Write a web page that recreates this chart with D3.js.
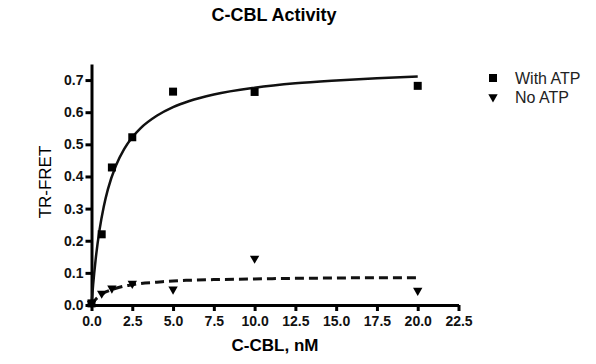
<!DOCTYPE html>
<html>
<head>
<meta charset="utf-8">
<script src="https://cdn.jsdelivr.net/npm/d3@7"></script>
<style>
  body { margin: 0; background: #fff; }
  svg { display: block; font-family: "Liberation Sans", Arial, sans-serif; }
</style>
</head>
<body>
<div id="container"></div>
<script>
// measured points
const conc = [0, 0.625, 1.25, 2.5, 5, 10, 20];
const withAtp = [0.005, 0.22, 0.428, 0.522, 0.664, 0.663, 0.682];
const noAtp = [0.005, 0.036, 0.052, 0.067, 0.049, 0.145, 0.045];

// fitted curves
const fitX = [0, 0.1, 0.25, 0.5, 0.75, 1, 1.5, 2, 2.5, 3, 4, 5, 6, 7.5, 10, 12.5, 15, 17.5, 20];
const fitWith = [0, 0.063, 0.140, 0.236, 0.306, 0.359, 0.434, 0.485, 0.522, 0.550, 0.589, 0.616, 0.635, 0.655, 0.676, 0.690, 0.699, 0.706, 0.711];
const fitNo = [0, 0.008, 0.017, 0.028, 0.037, 0.043, 0.052, 0.059, 0.063, 0.067, 0.071, 0.075, 0.077, 0.079, 0.081, 0.083, 0.084, 0.085, 0.085];

const xTicks = [0, 2.5, 5, 7.5, 10, 12.5, 15, 17.5, 20, 22.5];
const yTicks = [0, 0.1, 0.2, 0.3, 0.4, 0.5, 0.6, 0.7];
const seriesNames = ["With ATP", "No ATP"];

const width = 596;
const height = 364;

const x = d3.scaleLinear().domain([0, 22.5]).range([91.5, 458.5]);
const y = d3.scaleLinear().domain([0, 0.75]).range([305, 64]);

const svg = d3.create("svg")
  .attr("width", width)
  .attr("height", height);

// title
svg.append("text")
  .attr("x", 274)
  .attr("y", 21)
  .attr("text-anchor", "middle")
  .attr("font-size", "18px")
  .attr("font-weight", "bold")
  .text("C-CBL Activity");

const xAxis = svg.append("g")
  .attr("transform", "translate(0,305)")
  .call(d3.axisBottom(x).tickValues(xTicks).tickFormat(d3.format(".1f"))
    .tickSize(6).tickSizeOuter(0).tickPadding(5));

const yAxis = svg.append("g")
  .attr("transform", "translate(91.5,0)")
  .call(d3.axisLeft(y).tickValues(yTicks).tickFormat(d3.format(".1f"))
    .tickSize(6).tickSizeOuter(0).tickPadding(2));

[xAxis, yAxis].forEach(g => {
  g.select(".domain").attr("stroke", "#000").attr("stroke-width", 3);
  g.selectAll(".tick line").attr("stroke", "#000").attr("stroke-width", 3);
  g.selectAll(".tick text")
    .attr("fill", "#111")
    .attr("font-size", "14px")
    .attr("font-weight", "bold")
    .attr("font-family", "Liberation Sans, Arial, sans-serif");
});

// axis titles
svg.append("text")
  .attr("x", 275)
  .attr("y", 351)
  .attr("text-anchor", "middle")
  .attr("font-size", "17px")
  .attr("font-weight", "bold")
  .text("C-CBL, nM");

svg.append("text")
  .attr("transform", "translate(51,182) rotate(-90)")
  .attr("text-anchor", "middle")
  .attr("font-size", "17px")
  .text("TR-FRET");

const line = d3.line()
  .x(d => x(d[0]))
  .y(d => y(d[1]))
  .curve(d3.curveMonotoneX);

svg.append("path")
  .datum(d3.zip(fitX, fitWith))
  .attr("fill", "none")
  .attr("stroke", "#111")
  .attr("stroke-width", 2.5)
  .attr("d", line);

svg.append("path")
  .datum(d3.zip(fitX, fitNo))
  .attr("fill", "none")
  .attr("stroke", "#111")
  .attr("stroke-width", 3)
  .attr("stroke-dasharray", "9,5")
  .attr("d", line);

const square = d3.symbol(d3.symbolSquare, 64);
const triangle = d3.symbol(d3.symbolTriangle, 38);

svg.append("g")
  .selectAll("path")
  .data(d3.zip(conc, withAtp))
  .join("path")
  .attr("transform", d => `translate(${x(d[0])},${y(d[1])})`)
  .attr("d", square)
  .attr("fill", "#000");

svg.append("g")
  .selectAll("path")
  .data(d3.zip(conc, noAtp))
  .join("path")
  .attr("transform", d => `translate(${x(d[0])},${y(d[1])}) rotate(180)`)
  .attr("d", triangle)
  .attr("fill", "#000");

// legend
const legend = svg.append("g").attr("font-size", "16px");
seriesNames.forEach((name, i) => {
  const cy = 78 + i * 19;
  legend.append("path")
    .attr("transform", `translate(493,${cy})` + (i === 1 ? " rotate(180)" : ""))
    .attr("d", i === 0 ? square : triangle)
    .attr("fill", "#000");
  legend.append("text")
    .attr("x", 515)
    .attr("y", cy)
    .attr("dy", "0.36em")
    .attr("fill", "#222")
    .text(name);
});

d3.select("#container").append(() => svg.node());
</script>
</body>
</html>
